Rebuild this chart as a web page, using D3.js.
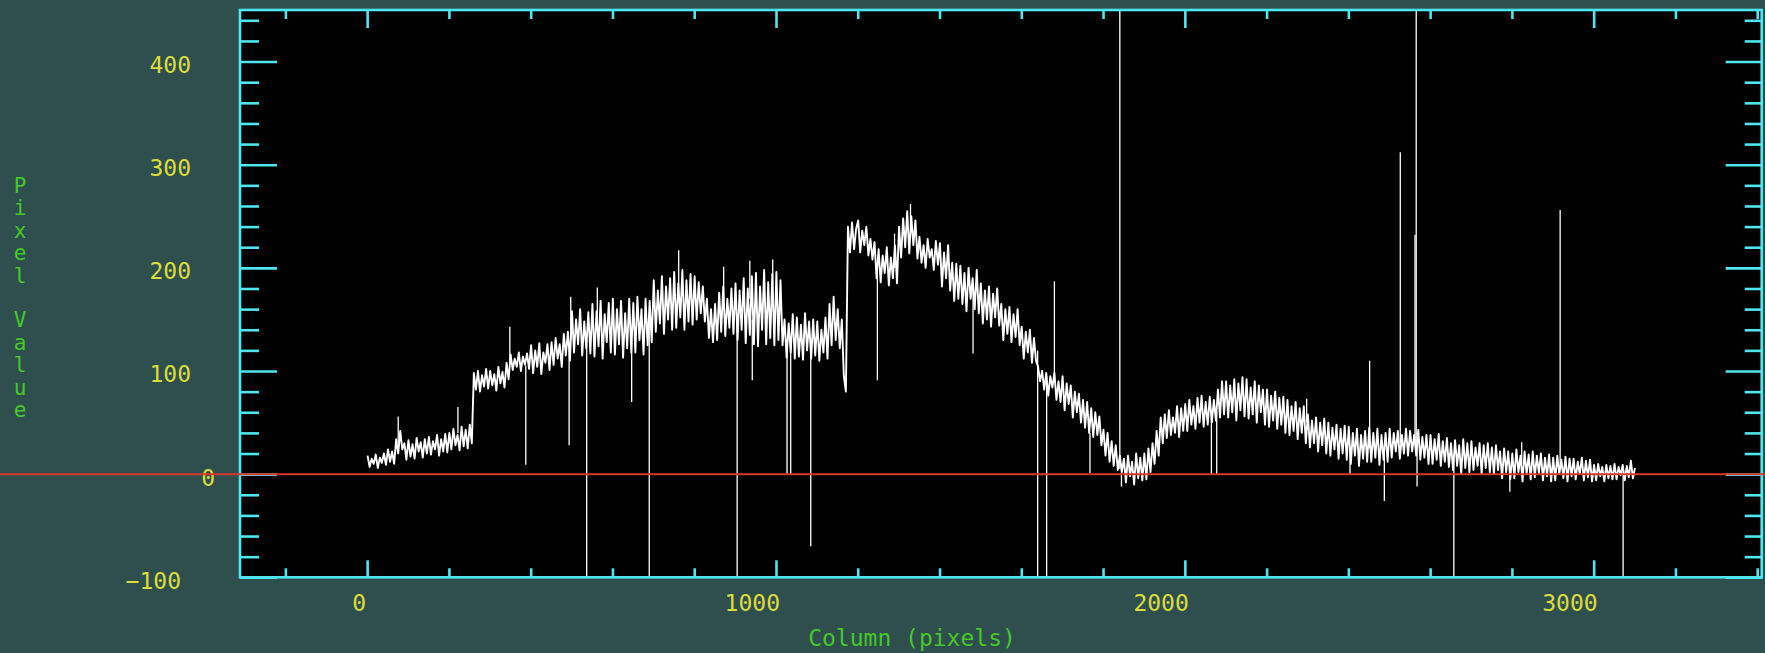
<!DOCTYPE html>
<html><head><meta charset="utf-8">
<script src="https://cdn.jsdelivr.net/npm/d3@7"></script>
<style>html,body{margin:0;padding:0;background:#2f4f4f;overflow:hidden}svg{display:block}</style>
</head><body><svg id="c" width="1765" height="653"></svg>
<script>
// ---- data ----
const columns = d3.range(1, 3102, 5);           // sampled columns
const flux = [
  18, 7, 15, 10, 19, 6, 16, 11, 20, 9,
  24, 12, 22, 10, 34, 20, 42, 24, 30, 14,
  33, 17, 29, 15, 35, 22, 31, 16, 34, 20,
  36, 19, 32, 24, 38, 18, 34, 22, 39, 21,
  40, 24, 44, 28, 38, 23, 46, 27, 43, 25,
  48, 30, 98, 82, 100, 80, 96, 85, 102, 83,
  100, 86, 97, 81, 104, 88, 99, 84, 108, 92,
  116, 101, 112, 104, 118, 100, 114, 106, 117, 102,
  125, 98, 120, 104, 127, 97, 118, 108, 126, 101,
  128, 106, 132, 112, 126, 104, 136, 115, 138, 110,
  158, 118, 150, 126, 160, 115, 148, 122, 157, 117,
  165, 114, 158, 124, 168, 112, 155, 128, 166, 118,
  170, 116, 160, 126, 168, 113, 156, 122, 170, 118,
  166, 118, 172, 130, 160, 116, 170, 125, 168, 128,
  188, 138, 178, 146, 192, 136, 182, 150, 190, 140,
  196, 142, 185, 152, 198, 140, 188, 148, 194, 145,
  192, 150, 186, 156, 182, 148, 170, 132, 160, 128,
  165, 130, 176, 138, 182, 134, 170, 142, 180, 136,
  185, 130, 178, 140, 190, 127, 180, 135, 192, 126,
  195, 124, 182, 140, 198, 126, 186, 132, 194, 125,
  196, 130, 188, 125, 150, 113, 146, 118, 155, 112,
  152, 114, 145, 111, 156, 120, 148, 112, 150, 115,
  148, 110, 140, 118, 152, 112, 165, 125, 172, 130,
  160, 122, 150, 95, 80, 240, 215, 244, 218, 238,
  246, 215, 236, 222, 240, 212, 228, 208, 225, 190,
  218, 186, 212, 195, 220, 183, 210, 190, 222, 185,
  240, 210, 248, 220, 255, 214, 250, 222, 246, 209,
  230, 205, 222, 200, 228, 210, 218, 198, 226, 203,
  224, 182, 215, 190, 222, 178, 205, 168, 204, 170,
  202, 165, 195, 158, 200, 170, 190, 160, 198, 156,
  185, 146, 178, 150, 182, 143, 175, 152, 180, 144,
  165, 130, 160, 136, 162, 128, 155, 133, 160, 125,
  143, 112, 138, 118, 140, 108, 132, 110, 104, 90,
  100, 82, 98, 76, 95, 84, 98, 72, 90, 70,
  95, 62, 88, 68, 86, 55, 80, 60, 78, 50,
  72, 45, 70, 40, 64, 36, 60, 38, 56, 28,
  43, 18, 40, 12, 32, 8, 28, 4, 18, 2,
  15, -8, 18, -2, 12, -10, 20, -4, 16, -6,
  20, -5, 25, 2, 30, 10, 42, 18, 55, 30,
  58, 35, 62, 38, 55, 40, 66, 36, 64, 42,
  68, 42, 72, 48, 66, 44, 74, 50, 76, 46,
  70, 48, 75, 50, 72, 52, 82, 55, 90, 58,
  90, 55, 86, 60, 92, 52, 88, 62, 94, 56,
  92, 54, 84, 58, 90, 50, 86, 60, 82, 48,
  82, 46, 76, 52, 80, 44, 74, 48, 75, 40,
  72, 38, 66, 42, 70, 34, 64, 40, 66, 30,
  58, 26, 52, 30, 55, 22, 50, 28, 54, 20,
  50, 18, 45, 24, 48, 15, 44, 20, 47, 14,
  46, 10, 40, 18, 44, 8, 38, 15, 42, 12,
  45, 12, 40, 16, 44, 9, 38, 14, 40, 12,
  44, 16, 40, 22, 42, 15, 38, 20, 44, 18,
  42, 22, 38, 18, 43, 14, 36, 16, 38, 10,
  38, 10, 34, 14, 39, 8, 32, 12, 35, 7,
  30, 4, 33, 8, 28, 0, 34, 6, 30, 2,
  32, 4, 26, 8, 30, 0, 28, 6, 30, 2,
  26, 0, 28, 4, 22, -4, 25, 2, 22, -5,
  20, -4, 24, 2, 18, -7, 22, 0, 19, -5,
  22, -3, 18, 1, 20, -6, 16, -2, 19, -7,
  16, -6, 18, 0, 14, -4, 17, -7, 15, -2,
  15, -5, 12, 0, 16, -6, 13, -3, 14, -7,
  9, -6, 10, -2, 7, -7, 9, -4, 8, -5,
  10, -5, 7, -1, 9, -6, 8, -3, 13, -4,
  6
];
// cosmic-ray / bad-pixel spikes: [column, band level, spike value]
const spikes = [
  [76,30,56],[222,40,65],[349,110,143],[388,105,9],[494,120,28],[498,130,172],
  [537,130,-130],[563,140,181],[647,130,70],[690,150,-130],[762,170,217],[872,160,201],
  [905,150,-130],[936,170,207],[942,150,91],[992,170,208],[1027,130,0],[1036,130,0],
  [1085,130,-70],[1248,200,91],[1290,200,233],[1329,240,262],[1482,180,117],
  [1640,120,-130],[1662,95,-130],[1681,90,187],[1768,40,1],[1841,5,480],[1845,5,-12],
  [2065,60,0],[2078,60,0],[2298,50,73],[2404,25,0],[2452,25,110],[2488,25,-26],
  [2527,30,312],[2563,30,232],[2566,30,480],[2568,30,-12],[2658,15,-130],
  [2795,8,-17],[2824,10,31],[2918,8,256],[3072,2,-130]
];
const xMajorTicks = [0, 1000, 2000, 3000];
const yMajorTicks = [-100, 0, 100, 200, 300, 400];
const xMinorTicks = d3.range(-200, 3401, 200).filter(v => v % 1000 !== 0);
const yMinorTicks = d3.range(-80, 441, 20).filter(v => v % 100 !== 0);
const xTitle = "Column (pixels)";
const yTitle = "Pixel Value";
const xDomain = [-311, 3411];
const yDomain = [-100, 450];

// ---- layout ----
const W = 1765, H = 653;
const L = 240, R = 1761.7, T = 10, B = 577.3;
const CYAN = "#4fe6ef", YEL = "#dcdc3c", GRN = "#46c828", RED = "#d6382a";
const FONT = "'DejaVu Sans Mono', monospace";

const svg = d3.select("#c");
const x = d3.scaleLinear().domain(xDomain).range([L, R]);
const y = d3.scaleLinear().domain(yDomain).range([B, T]);

svg.append("rect").attr("x", 0).attr("y", 0).attr("width", W).attr("height", H).attr("fill", "#2f4f4f");
svg.append("rect").attr("x", L).attr("y", T).attr("width", R - L).attr("height", B - T).attr("fill", "#000");

svg.append("defs").append("clipPath").attr("id", "plotclip")
  .append("rect").attr("x", L).attr("y", T).attr("width", R - L).attr("height", B - T);

const pts = columns.map((c, i) => [c, flux[i]]);
const plot = svg.append("g").attr("clip-path", "url(#plotclip)");
plot.append("path")
  .attr("d", d3.line().x(d => x(d[0])).y(d => y(d[1]))(pts))
  .attr("fill", "none").attr("stroke", "#fff").attr("stroke-width", 1.9)
  .attr("stroke-linejoin", "round");
plot.selectAll("line.spike").data(spikes).join("line")
  .attr("class", "spike")
  .attr("x1", d => x(d[0])).attr("x2", d => x(d[0]))
  .attr("y1", d => y(d[1])).attr("y2", d => y(d[2]))
  .attr("stroke", "#fff").attr("stroke-width", 1.3);

// ---- axes (ticks pointing inward) ----
function styleAxis(g) {
  g.select(".domain").remove();
  g.selectAll(".tick line").attr("stroke", CYAN).attr("stroke-width", 2.6);
  g.selectAll(".tick text").remove();
}
const ax = [
  [d3.axisBottom(x).tickValues(xMajorTicks).tickSize(-17), `translate(0,${B})`],
  [d3.axisBottom(x).tickValues(xMinorTicks).tickSize(-9), `translate(0,${B})`],
  [d3.axisTop(x).tickValues(xMajorTicks).tickSize(-18), `translate(0,${T})`],
  [d3.axisTop(x).tickValues(xMinorTicks).tickSize(-9), `translate(0,${T})`],
  [d3.axisLeft(y).tickValues(yMajorTicks).tickSize(-37), `translate(${L},0)`],
  [d3.axisLeft(y).tickValues(yMinorTicks).tickSize(-19), `translate(${L},0)`],
  [d3.axisRight(y).tickValues(yMajorTicks).tickSize(-36), `translate(${R},0)`],
  [d3.axisRight(y).tickValues(yMinorTicks).tickSize(-17), `translate(${R},0)`]
];
ax.forEach(([a, t]) => svg.append("g").attr("transform", t).call(a.tickFormat("")).call(styleAxis));

svg.append("rect").attr("x", L).attr("y", T).attr("width", R - L).attr("height", B - T)
  .attr("fill", "none").attr("stroke", CYAN).attr("stroke-width", 2.6);

// ---- tick labels ----
svg.append("g").selectAll("text").data(xMajorTicks).join("text")
  .attr("x", d => x(d) + (d === 0 ? -1 : 4)).attr("y", 611)
  .attr("text-anchor", "end").attr("fill", YEL)
  .style("font-family", FONT).style("font-size", "23px")
  .text(d => d);

svg.append("g").selectAll("text").data(yMajorTicks).join("text")
  .attr("x", d => 191 + (d === 0 ? 24 : d < 0 ? -10 : 0)).attr("y", d => y(d) + 11.4)
  .attr("text-anchor", "end").attr("fill", YEL)
  .style("font-family", FONT).style("font-size", "23px")
  .text(d => d < 0 ? "\u2212" + Math.abs(d) : d);

// ---- axis titles ----
svg.append("text").attr("x", 912).attr("y", 646).attr("text-anchor", "middle")
  .attr("fill", GRN).style("font-family", FONT).style("font-size", "23px").text(xTitle);

svg.append("g").selectAll("text").data(yTitle.split("")).join("text")
  .attr("x", 20).attr("y", (d, i) => 192.7 + i * 22.46).attr("text-anchor", "middle")
  .attr("fill", GRN).style("font-family", FONT).style("font-size", "21px").text(d => d);

// ---- zero line ----
svg.append("line").attr("x1", 0).attr("x2", W).attr("y1", y(0)).attr("y2", y(0))
  .attr("stroke", RED).attr("stroke-width", 2);
</script></body></html>
